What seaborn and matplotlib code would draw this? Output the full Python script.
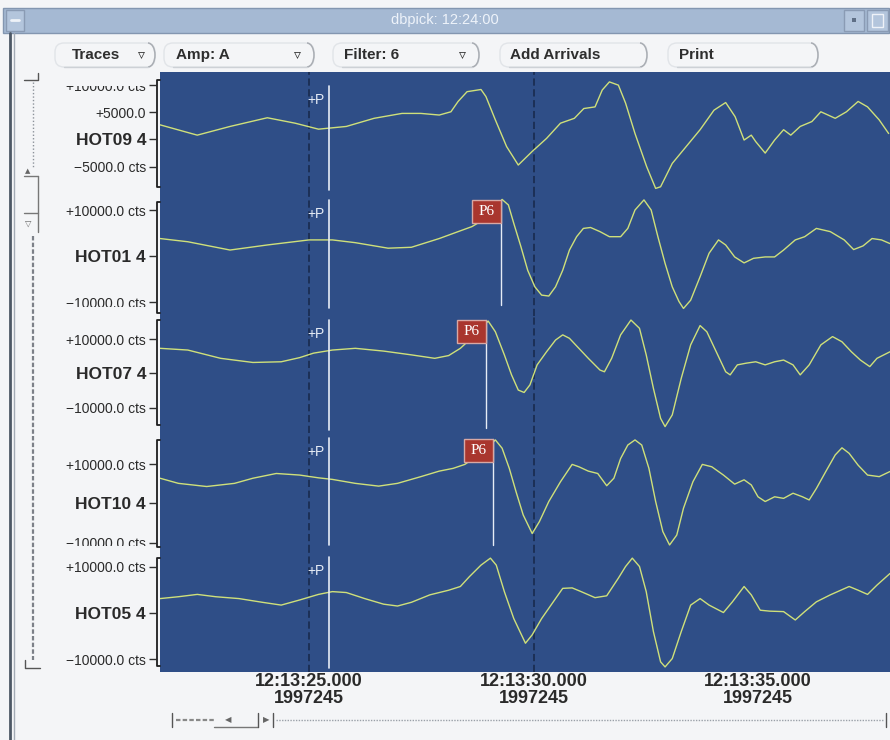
import matplotlib
matplotlib.use("Agg")
import matplotlib.pyplot as plt
import seaborn as sns
from matplotlib.patches import Rectangle, FancyBboxPatch, Arc
from matplotlib.lines import Line2D
from matplotlib.transforms import Affine2D, Bbox, blended_transform_factory, offset_copy

# ---------------------------------------------------------------------------
# Filtered seismograms, channel 4: time in seconds after 12:13:00 (day 1997245)
# and ground-motion amplitude in counts.
# ---------------------------------------------------------------------------
hot09_t = [21.68, 22.51, 23.24, 24.07, 24.69, 25.21, 25.83, 26.45, 27.07, 27.49, 27.90,
           28.16, 28.32, 28.52, 28.83, 28.94, 29.15, 29.40, 29.66, 29.97, 30.29, 30.60,
           30.91, 31.12, 31.37, 31.53, 31.69, 31.89, 32.05, 32.26, 32.52, 32.72, 32.83,
           33.09, 33.40, 33.71, 34.02, 34.28, 34.49, 34.69, 34.85, 34.95, 35.16, 35.37,
           35.57, 35.73, 35.94, 36.20, 36.40, 36.72, 36.97, 37.23, 37.44, 37.70, 37.91]
hot09_amp = [2700, 800, 2400, 4000, 3000, 1900, 2400, 3900, 4800, 4800, 4500,
             5100, 7000, 8800, 9200, 7900, 3600, -1300, -4700, -2200, 200, 3000,
             3900, 5700, 6000, 9100, 10600, 10000, 6700, 1100, -5000, -9000, -8700,
             -4400, -1300, 1800, 5400, 6800, 4200, -100, 800, -400, -2500, -100,
             1800, 800, 2400, 3300, 5100, 3900, 5100, 7000, 6000, 3600, 1100]

hot01_t = [21.68, 22.30, 23.24, 24.07, 25.00, 25.52, 26.03, 26.76, 27.28, 27.90, 28.32,
           28.63, 28.99, 29.30, 29.44, 29.56, 29.72, 29.87, 30.03, 30.18, 30.34, 30.49,
           30.65, 30.80, 30.96, 31.11, 31.27, 31.48, 31.69, 31.94, 32.10, 32.26, 32.46,
           32.62, 32.77, 32.93, 33.09, 33.24, 33.34, 33.50, 33.71, 33.91, 34.12, 34.28,
           34.48, 34.69, 34.90, 35.16, 35.37, 35.57, 35.83, 36.04, 36.30, 36.61, 36.92,
           37.13, 37.34, 37.54, 37.75, 37.94]
hot01_amp = [3800, 3100, 1300, 2400, 3500, 3500, 2900, 1700, 1900, 3800, 5300,
             6400, 8500, 12300, 11100, 7100, 2000, -3100, -6700, -8500, -8700, -6700,
             -3100, 1300, 4200, 6000, 6200, 5300, 4200, 4200, 6000, 10000, 12200,
             10000, 4200, -1600, -6700, -9900, -11400, -9600, -4500, 600, 3500, 2400,
             -200, -1500, -500, -200, -200, 1300, 3500, 4200, 6000, 5300, 3500,
             1400, 2200, 3800, 3500, 2700]

hot07_t = [21.68, 22.30, 23.03, 23.75, 24.38, 24.79, 25.10, 25.52, 26.03, 26.66, 27.28,
           27.80, 28.11, 28.37, 28.47, 28.73, 28.99, 29.15, 29.35, 29.51, 29.66, 29.79,
           29.92, 30.08, 30.29, 30.49, 30.65, 30.80, 31.01, 31.22, 31.48, 31.58, 31.74,
           31.94, 32.17, 32.36, 32.51, 32.67, 32.83, 32.93, 33.09, 33.29, 33.50, 33.71,
           33.86, 34.07, 34.28, 34.38, 34.54, 34.74, 34.95, 35.16, 35.37, 35.57, 35.78,
           35.94, 36.14, 36.40, 36.66, 36.87, 37.08, 37.28, 37.49, 37.65, 37.94]
hot07_amp = [7300, 6800, 4400, 3200, 3400, 4600, 5900, 6800, 7300, 6500, 5400,
             4400, 5200, 7300, 8500, 12100, 15200, 12100, 5400, -400, -4800, -5500,
             -3300, 2500, 6300, 9700, 11200, 10200, 7300, 4400, 1000, 500, 4400,
             11200, 15500, 13100, 5400, -4300, -13000, -15400, -12000, -1400, 8300, 13900,
             12100, 6300, 500, -400, 2500, 3000, 3400, 2500, 3400, 3900, 2500,
             -400, 2500, 8300, 10700, 9200, 6300, 3900, 2000, 4400, 6300]

hot10_t = [21.68, 22.09, 22.72, 23.34, 23.75, 24.27, 24.79, 25.21, 25.52, 26.03, 26.55,
           26.97, 27.49, 27.90, 28.21, 28.47, 28.83, 29.15, 29.30, 29.46, 29.61, 29.77,
           29.97, 30.13, 30.34, 30.60, 30.86, 31.01, 31.22, 31.43, 31.63, 31.79, 31.94,
           32.10, 32.26, 32.41, 32.57, 32.72, 32.88, 33.03, 33.19, 33.34, 33.55, 33.76,
           33.97, 34.23, 34.48, 34.69, 34.85, 35.00, 35.16, 35.37, 35.57, 35.78, 35.99,
           36.14, 36.30, 36.51, 36.72, 36.87, 37.03, 37.23, 37.44, 37.70, 37.94]
hot10_amp = [6400, 5100, 4300, 5100, 6400, 7600, 7200, 6500, 6100, 5100, 4400,
             5100, 6800, 8200, 8900, 9900, 12700, 16100, 14000, 8900, 3000, -2900,
             -7600, -4600, 500, 5500, 9900, 9300, 8200, 7600, 4500, 6400, 11400,
             14800, 16100, 14800, 8900, 500, -7100, -10500, -8000, -1200, 5500, 9900,
             9300, 7200, 4900, 6000, 4700, 1700, 500, 1700, 1300, 2600, 1700,
             900, 3800, 8100, 12300, 14100, 12700, 9700, 7200, 6800, 8100]

hot05_t = [21.68, 22.09, 22.51, 22.92, 23.44, 23.96, 24.38, 24.79, 25.21, 25.52, 25.83,
           26.24, 26.66, 26.97, 27.28, 27.69, 28.11, 28.37, 28.57, 28.83, 29.04, 29.17,
           29.35, 29.56, 29.82, 29.97, 30.18, 30.44, 30.65, 30.86, 31.06, 31.37, 31.63,
           31.89, 32.05, 32.20, 32.36, 32.51, 32.67, 32.83, 32.93, 33.09, 33.29, 33.50,
           33.71, 33.91, 34.23, 34.43, 34.69, 34.85, 35.05, 35.26, 35.57, 35.83, 36.04,
           36.30, 36.61, 37.03, 37.23, 37.44, 37.65, 37.94]
hot05_amp = [3100, 3500, 4000, 3500, 3100, 2300, 1700, 2800, 4000, 4600, 4400,
             3100, 1900, 1500, 2300, 3900, 4900, 5700, 7800, 10300, 11800, 10300,
             4600, -1200, -6500, -4700, -1200, 2400, 5300, 5400, 4600, 3300, 3700,
             7500, 10000, 11800, 10000, 4600, -4000, -10500, -11600, -9800, -4000, 1700,
             3100, 1700, 100, 2400, 5700, 3900, 600, 400, 300, -1500, 300,
             2400, 3900, 5700, 4900, 4000, 6000, 8500]

stations = ["HOT09", "HOT01", "HOT07", "HOT10", "HOT05"]
channel = "4"
traces = {
    "HOT09": (hot09_t, hot09_amp),
    "HOT01": (hot01_t, hot01_amp),
    "HOT07": (hot07_t, hot07_amp),
    "HOT10": (hot10_t, hot10_amp),
    "HOT05": (hot05_t, hot05_amp),
}

# arrival picks (seconds after 12:13:00)
p_time = 25.44
p6_times = {"HOT01": 29.28, "HOT07": 28.94, "HOT10": 29.10}

# amplitude ticks per trace
amp_ticks = {
    "HOT09": [10000, 5000, 0, -5000],
    "HOT01": [10000, 0, -10000],
    "HOT07": [10000, 0, -10000],
    "HOT10": [10000, 0, -10000],
    "HOT05": [10000, 0, -10000],
}
amp_tick_text = {
    "HOT09": ["+10000.0 cts", "+5000.0", "HOT09 4", "\u22125000.0 cts"],
    "HOT01": ["+10000.0 cts", "HOT01 4", "\u221210000.0 cts"],
    "HOT07": ["+10000.0 cts", "HOT07 4", "\u221210000.0 cts"],
    "HOT10": ["+10000.0 cts", "HOT10 4", "\u221210000.0 cts"],
    "HOT05": ["+10000.0 cts", "HOT05 4", "\u221210000.0 cts"],
}
time_ticks = [25, 30, 35]
time_labels = ["12:13:25.000\n1997245", "12:13:30.000\n1997245", "12:13:35.000\n1997245"]

# ---------------------------------------------------------------------------
# Window layout (pixels from the top-left corner)
# ---------------------------------------------------------------------------
W, H = 890, 740
PLOT_X0, PLOT_X1 = 160, 890
XLIM = (21.68, 37.94)
layout = {
    "HOT09": dict(top=72, bot=194, ylim=(-10030, 12420), br=(80, 187), clip=(86, 194),
                  p=(86, 190)),
    "HOT01": dict(top=194, bot=316, ylim=(-13040, 13480), br=(202, 313), clip=(194, 307),
                  p=(200, 308), p6=(200, 305)),
    "HOT07": dict(top=316, bot=433, ylim=(-17250, 16670), br=(320, 425), clip=(312, 433),
                  p=(320, 430), p6=(320, 428)),
    "HOT10": dict(top=433, bot=552, ylim=(-12280, 17850), br=(440, 547), clip=(433, 546),
                  p=(438, 545), p6=(439, 545)),
    "HOT05": dict(top=552, bot=672, ylim=(-12690, 13120), br=(558, 666), clip=(552, 700),
                  p=(557, 668)),
}

BLUE = "#2f4e87"
TRACE = "#cfe07a"
PICK = "#e6ecf6"
GRID = "#1b2d52"
INK = "#2a2a2a"

sns.set_style("white")
plt.rcParams["font.family"] = ["Liberation Sans", "DejaVu Sans"]

fig = plt.figure(figsize=(W / 100, H / 100), dpi=100)
fig.patch.set_facecolor("#f4f5f7")
PX = Affine2D().scale(1, -1).translate(0, H)   # pixel coords, origin top-left

px_per_sec = (PLOT_X1 - PLOT_X0) / (XLIM[1] - XLIM[0])

for name in stations:
    lay = layout[name]
    top, bot = lay["top"], lay["bot"]
    hpx = bot - top

    def frac(y, bot=bot, hpx=hpx):
        return (bot - y) / hpx

    ax = fig.add_axes([PLOT_X0 / W, 1 - bot / H, (PLOT_X1 - PLOT_X0) / W, hpx / H])
    ax.set_facecolor(BLUE)

    for t in time_ticks[:2]:
        ax.axvline(t, color=GRID, lw=1.3, ls=(0, (4, 2)), zorder=1)

    t_vals, a_vals = traces[name]
    sns.lineplot(x=t_vals, y=a_vals, ax=ax, color=TRACE, linewidth=1.0,
                 estimator=None, sort=False, legend=False, zorder=3,
                 solid_joinstyle="round")

    ax.set_xlim(*XLIM)
    ax.set_ylim(*lay["ylim"])
    ax.set_xlabel("")
    ax.set_ylabel("")
    for s in ax.spines.values():
        s.set_visible(False)
    ax.spines["left"].set_position(("outward", 3))

    trans = blended_transform_factory(ax.transData, ax.transAxes)

    # P pick
    y0, y1 = lay["p"]
    ax.axvline(p_time, ymin=frac(y1), ymax=frac(y0), color=PICK, lw=1.2, zorder=4)
    ax.text(p_time, frac(y0 + 7), "+P",
            transform=offset_copy(trans, fig=fig, x=-4, y=0, units="dots"),
            ha="right", va="top", color=PICK, fontsize=10, zorder=5)

    # P6 pick with its flag
    if name in p6_times:
        t6 = p6_times[name]
        y0, y1 = lay["p6"]
        ax.axvline(t6, ymin=frac(y1), ymax=frac(y0), color=PICK, lw=1.0, zorder=4)
        bw, bh = 29 / px_per_sec, 23 / hpx
        ax.add_patch(Rectangle((t6 - bw, frac(y0) - bh), bw, bh, transform=trans,
                               fc="#a9362e", ec="#d8a8a4", lw=1.0, zorder=6))
        ax.text(t6 - bw / 2, frac(y0) - bh / 2, "P6", transform=trans, ha="center",
                va="center", color="white", fontsize=11, family="Liberation Serif",
                zorder=7)

    # trace bracket
    bt = offset_copy(ax.transAxes, fig=fig, x=-3, y=0, units="dots")
    hook = 3 / (PLOT_X1 - PLOT_X0)
    fb, ft = frac(lay["br"][1]), frac(lay["br"][0])
    ax.add_artist(Line2D([hook, 0, 0, hook], [ft, ft, fb, fb], transform=bt,
                         color="#1e1e1e", lw=1.3, clip_on=False, zorder=8))

    # amplitude ticks and station label
    ax.set_yticks(amp_ticks[name], amp_tick_text[name])
    ax.tick_params(axis="y", which="major", left=True, direction="out", length=5,
                   width=1, color="#303030", pad=2, labelsize=10, labelcolor=INK)
    cb = Bbox.from_extents(0, H - lay["clip"][1], 158, H - lay["clip"][0])
    for tk, txt in zip(ax.yaxis.get_major_ticks(), amp_tick_text[name]):
        if txt.startswith(name):
            tk.label1.set_fontweight("bold")
            tk.label1.set_fontsize(12.5)
        tk.label1.set_clip_box(cb)
        tk.label1.set_clip_on(True)

    if name == stations[-1]:
        ax.set_xticks(time_ticks, time_labels)
        ax.tick_params(axis="x", bottom=True, length=0, pad=1, labelsize=13,
                       labelcolor=INK)
        for lbl in ax.get_xticklabels():
            lbl.set_fontweight("bold")
            lbl.set_linespacing(1.0)
    else:
        ax.set_xticks([])


# ---------------------------------------------------------------------------
# Window decorations
# ---------------------------------------------------------------------------
def add_line(xs, ys, **kw):
    fig.add_artist(Line2D(xs, ys, transform=PX, **kw))


def add_rect(x0, y0, x1, y1, **kw):
    fig.add_artist(Rectangle((x0, y0), x1 - x0, y1 - y0, transform=PX, **kw))


def add_text(x, y, s, **kw):
    fig.text(x, y, s, transform=PX, **kw)


# title bar
add_rect(3, 8, 889, 33, fc="#a5b9d3", ec="#8396b0", lw=1)
add_rect(6, 10, 24, 31, fc="#b3c5dc", ec="#8a9bb4", lw=1)
add_line([11, 19], [20, 20], color="#eef2f8", lw=2)
add_rect(844, 10, 864, 31, fc="#b3c5dc", ec="#8a9bb4", lw=1)
add_rect(867, 10, 888, 31, fc="#b3c5dc", ec="#8a9bb4", lw=1)
add_rect(852, 18, 856, 22, fc="#5f6f86", ec="none")
add_rect(872, 14, 883, 27, fc="none", ec="#eef2f8", lw=1)
add_text(445, 20, "dbpick: 12:24:00", ha="center", va="center", color="#eef3fa",
         fontsize=10.5)

# toolbar buttons: label, text x, menu-arrow x, button span
buttons = [("Traces", 72, 141, 55, 155), ("Amp: A", 176, 297, 164, 314),
           ("Filter: 6", 344, 462, 333, 479), ("Add Arrivals", 510, None, 500, 647),
           ("Print", 679, None, 668, 818)]
for label, tx, arx, bx0, bx1 in buttons:
    fig.add_artist(FancyBboxPatch((bx0, 43), bx1 - bx0, 24,
                                  boxstyle="round,pad=0,rounding_size=9", transform=PX,
                                  fc="none", ec="#e1e4e8", lw=1))
    fig.add_artist(Arc((bx1 - 7, 55), 14, 24, theta1=-90, theta2=90, transform=PX,
                       color="#a9adb3", lw=1.1))
    add_line([bx0 + 9, bx1 - 7], [67, 67], color="#cdd1d6", lw=1)
    add_text(tx, 55, label, ha="left", va="center", fontweight="bold", fontsize=11,
             color="#2e2e2e")
    if arx is not None:
        add_text(arx, 55, "\u25bf", ha="center", va="center", fontsize=10,
                 color="#2e2e2e", family="DejaVu Sans")

# left window frame
add_line([10, 10], [33, 740], color="#4d5866", lw=2)
add_line([14, 14], [33, 740], color="#a3abb5", lw=1)

# vertical scroller
add_line([24, 38, 38], [80, 80, 73], color="#555", lw=1)
add_line([33, 33], [82, 168], color="#8c929a", lw=1, ls=(0, (1, 1.5)))
add_text(28, 171, "\u25b2", ha="center", va="center", fontsize=5, color="#666",
         family="DejaVu Sans")
add_line([24, 38], [176, 176], color="#777", lw=1)
add_line([38, 38], [176, 232], color="#777", lw=1)
add_line([24, 38], [213, 213], color="#777", lw=1)
add_text(28, 223, "\u25bd", ha="center", va="center", fontsize=6, color="#666",
         family="DejaVu Sans")
add_line([33, 33], [236, 660], color="#7c8088", lw=1.6, ls=(0, (2, 1)))
add_line([25, 25, 40], [660, 668, 668], color="#555", lw=1)

# horizontal scroller
add_line([172, 172], [713, 727], color="#555", lw=1)
add_line([176, 214], [720, 720], color="#888", lw=1.6, ls=(0, (2, 1)))
add_line([214, 258], [727, 727], color="#777", lw=1)
add_text(228, 720, "\u25c0", ha="center", va="center", fontsize=6, color="#666",
         family="DejaVu Sans")
add_line([258, 258], [713, 727], color="#555", lw=1)
add_text(266, 720, "\u25b6", ha="center", va="center", fontsize=6, color="#666",
         family="DejaVu Sans")
add_line([273, 273], [713, 727], color="#555", lw=1)
add_line([276, 884], [720, 720], color="#9aa0a8", lw=1, ls=(0, (1, 1)))
add_line([886, 886], [713, 727], color="#555", lw=1)

fig.savefig("out.png", dpi=100, facecolor=fig.get_facecolor())
